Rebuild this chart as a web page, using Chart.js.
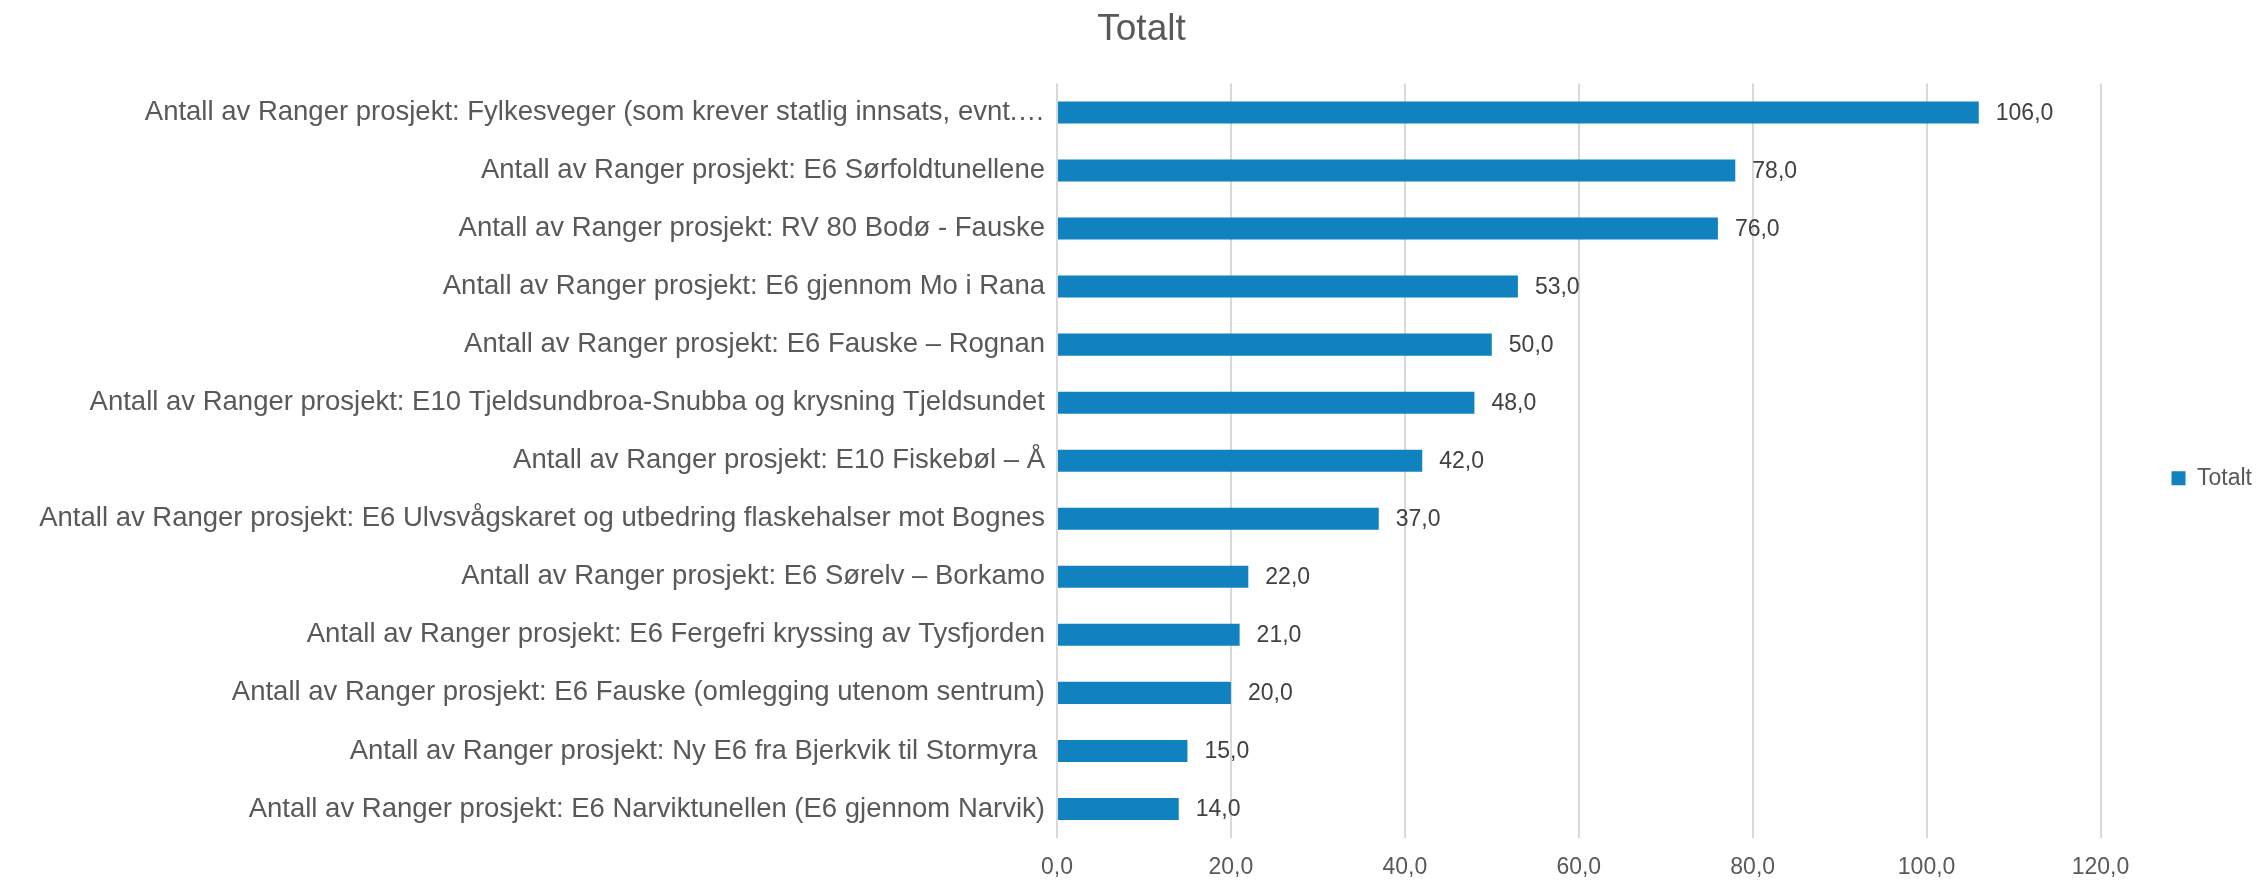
<!DOCTYPE html>
<html>
<head>
<meta charset="utf-8">
<script src="https://cdn.jsdelivr.net/npm/chart.js@4"></script>
<style>
  body { margin: 0; background: #fff; }
  #wrap { width: 2257px; height: 882px; }
</style>
</head>
<body>
<div id="wrap"><canvas id="totalChart"></canvas></div>
<script>
const prefix = 'Antall av Ranger prosjekt: ';
const projects = [
    'Fylkesveger (som krever statlig innsats, evnt.…',
    'E6 Sørfoldtunellene',
    'RV 80 Bodø - Fauske',
    'E6 gjennom Mo i Rana',
    'E6 Fauske – Rognan',
    'E10 Tjeldsundbroa-Snubba og krysning Tjeldsundet',
    'E10 Fiskebøl – Å',
    'E6 Ulvsvågskaret og utbedring flaskehalser mot Bognes',
    'E6 Sørelv – Borkamo',
    'E6 Fergefri kryssing av Tysfjorden',
    'E6 Fauske (omlegging utenom sentrum)',
    'Ny E6 fra Bjerkvik til Stormyra ',
    'E6 Narviktunellen (E6 gjennom Narvik)'
];
const totals = [106, 78, 76, 53, 50, 48, 42, 37, 22, 21, 20, 15, 14];
const xTicks = [0, 20, 40, 60, 80, 100, 120];

const fontFamily = '"Liberation Sans", Arial, sans-serif';
const grey = '#595959';

function fmt(v) {
    return Number(v).toFixed(1).replace('.', ',');
}

// value labels at the end of each bar
const valueLabels = {
    id: 'valueLabels',
    afterDatasetsDraw(chart) {
        const ctx = chart.ctx;
        const meta = chart.getDatasetMeta(0);
        ctx.save();
        ctx.font = '23px ' + fontFamily;
        ctx.fillStyle = '#404040';
        ctx.textAlign = 'left';
        ctx.textBaseline = 'middle';
        meta.data.forEach(function (bar, i) {
            ctx.fillText(fmt(totals[i]), bar.x + 17, bar.y + 1);
        });
        ctx.restore();
    }
};

new Chart(document.getElementById('totalChart'), {
    type: 'bar',
    data: {
        labels: projects.map(p => prefix + p),
        datasets: [{
            label: 'Totalt',
            data: totals,
            backgroundColor: 'rgb(17,130,192)',
            borderWidth: 0,
            barPercentage: 0.38,
            categoryPercentage: 1
        }]
    },
    options: {
        indexAxis: 'y',
        responsive: true,
        maintainAspectRatio: false,
        animation: false,
        layout: { padding: { left: 21, right: -5, top: 0, bottom: 0 } },
        plugins: {
            title: {
                display: true,
                text: 'Totalt',
                color: grey,
                font: { family: fontFamily, size: 37, weight: 'normal' },
                padding: { top: 8, bottom: 31 }
            },
            legend: {
                position: 'right',
                title: {
                    display: true,
                    text: '',
                    font: { size: 12 },
                    padding: { top: 0, bottom: 60 }
                },
                labels: {
                    boxWidth: 14,
                    boxHeight: 14,
                    padding: 71,
                    color: grey,
                    font: { family: fontFamily, size: 23 }
                }
            },
            tooltip: { enabled: false }
        },
        scales: {
            x: {
                min: 0,
                max: 120,
                afterBuildTicks(scale) {
                    scale.ticks = xTicks.map(v => ({ value: v }));
                },
                afterFit(scale) {
                    scale.height = 44;
                    scale.paddingRight = 156;
                },
                grid: { color: '#d9d9d9', lineWidth: 2, drawTicks: false },
                border: { display: false },
                ticks: {
                    padding: 16,
                    color: grey,
                    font: { family: fontFamily, size: 23 },
                    callback: v => fmt(v)
                }
            },
            y: {
                afterFit(scale) {
                    scale.width = 1036;
                },
                grid: { display: false },
                border: { display: false },
                ticks: {
                    autoSkip: false,
                    padding: 4,
                    color: grey,
                    font: { family: fontFamily, size: 27.5 }
                }
            }
        }
    },
    plugins: [valueLabels]
});
</script>
</body>
</html>
